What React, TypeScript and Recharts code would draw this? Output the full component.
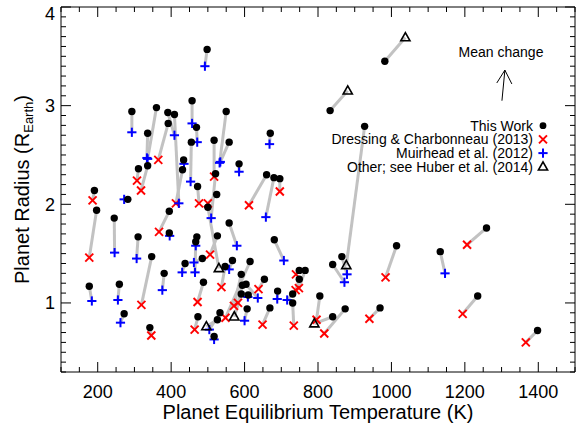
import React from 'react';
import { ScatterChart, Scatter, XAxis, YAxis, ReferenceLine } from 'recharts';

// ---- Data: "This Work" (black dots) and the earlier estimate each is linked to ----
const thisWorkTeq = [177, 191, 197, 245, 259, 272, 282, 293, 310, 347, 342, 381, 395, 395, 438, 360, 336, 336, 311, 391,
  409, 392, 431, 434, 498, 457, 469, 455, 550, 558, 517, 521, 524, 500, 472, 585, 670, 660, 680, 696,
  558, 526, 681, 470, 467, 485, 488, 473, 517, 526, 533, 567, 547, 615, 591, 594, 604, 591, 610, 607,
  654, 690, 669, 731, 731, 749, 765, 749, 805, 840, 874, 969, 1014, 1133, 1259, 1235, 1398, 865, 840, 927,
  833, 982];
const thisWorkRad = [1.17, 2.14, 1.94, 1.86, 1.19, 0.89, 2.05, 2.94, 1.67, 1.47, 0.75, 1.30, 1.93, 1.71, 1.40, 2.98, 2.72, 2.39, 2.36, 2.93,
  2.91, 2.82, 2.35, 2.45, 3.57, 3.05, 2.78, 2.63, 2.94, 2.63, 2.65, 2.31, 2.10, 1.97, 2.18, 2.41, 2.72, 2.30, 2.27, 2.26,
  1.81, 1.68, 1.64, 1.67, 1.62, 1.45, 1.21, 0.86, 0.66, 0.83, 0.90, 1.43, 1.37, 1.42, 1.29, 1.18, 1.19, 1.09, 1.08, 0.94,
  1.24, 1.12, 0.95, 1.09, 1.00, 1.33, 1.33, 1.24, 1.07, 0.86, 0.94, 0.95, 1.58, 1.52, 1.76, 1.07, 0.72, 1.47, 1.39, 2.79,
  2.95, 3.45];
const priorTeq = [184, 186, 177, 246, 255, 262, 272, 293, 306, 319, 346, 376, 367, 396, 430, 336, 334, 318, 307, 409,
  421, 365, 413, 435, 492, 457, 471, 453, 532, 534, 517, 509, 500, 530, 476, 585, 668, 612, 658, 696,
  579, 506, 707, 467, 465, 462, 472, 464, 517, 496, 504, 558, 537, 548, 571, 582, 636, 572, 609, 600,
  638, 689, 649, 716, 734, 740, 748, 739, 796, 790, 817, 940, 984, 1146, 1206, 1194, 1366, 879, 872, 877,
  881, 1038];
const priorRad = [1.02, 2.04, 1.46, 1.51, 1.03, 0.80, 2.05, 2.73, 1.45, 0.98, 0.67, 1.13, 1.72, 1.68, 1.31, 2.46, 2.47, 2.14, 2.24, 2.70,
  2.01, 2.45, 2.01, 2.41, 3.40, 2.82, 2.63, 2.23, 2.42, 2.43, 2.28, 1.86, 2.01, 1.35, 2.01, 2.33, 2.61, 1.99, 1.87, 2.13,
  1.58, 1.49, 1.43, 1.58, 1.31, 1.41, 1.01, 0.73, 0.63, 0.76, 0.73, 1.34, 1.16, 0.85, 0.97, 1.00, 1.05, 0.86, 1.06, 0.82,
  1.14, 1.04, 0.78, 1.03, 0.77, 1.29, 1.15, 1.13, 0.83, 0.79, 0.69, 0.84, 1.26, 1.30, 1.59, 0.89, 0.60, 1.29, 1.21, 1.38,
  3.15, 3.69];
// D = Dressing & Charbonneau (2013), M = Muirhead et al. (2012), H = other (Huber et al. 2014)
const priorSource = ['M', 'D', 'D', 'M', 'M', 'M', 'M', 'M', 'M', 'D', 'D', 'M', 'D', 'M', 'M', 'M', 'M', 'D', 'D', 'M',
  'M', 'D', 'D', 'M', 'M', 'M', 'M', 'M', 'M', 'M', 'D', 'M', 'D', 'H', 'D', 'M', 'M', 'D', 'M', 'D',
  'M', 'D', 'M', 'M', 'M', 'M', 'D', 'D', 'M', 'H', 'M', 'M', 'D', 'D', 'D', 'D', 'M', 'H', 'M', 'M',
  'D', 'M', 'D', 'M', 'D', 'D', 'D', 'D', 'D', 'H', 'D', 'D', 'D', 'M', 'D', 'D', 'D', 'M', 'M', 'H',
  'H', 'H'];

const xMajorTicks = [200, 400, 600, 800, 1000, 1200, 1400];
const yMajorTicks = [1, 2, 3, 4];
const xDomain = [100, 1500];
const yDomain = [0.3, 4.0];

// mean-change arrow (tail -> tip, plus two arms of the head), data coordinates
const arrowTail = { x: 1301, y: 3.05 };
const arrowTip = { x: 1309, y: 3.36 };
const arrowArmL = { x: 1287, y: 3.23 };
const arrowArmR = { x: 1328, y: 3.22 };

const legendLabels = ['This Work', 'Dressing & Charbonneau (2013)', 'Muirhead et al. (2012)', 'Other; see Huber et al. (2014)'];
const legendMarkers = ['circle', 'x', 'plus', 'tri'];

// ---- layout ----
const W = 580;
const H = 423;
const M = { top: 7, right: 5, left: 1, bottom: 0 };
const YAXIS_W = 60;
const XAXIS_H = 51;
const PLOT_W = W - M.left - M.right - YAXIS_W;
const PLOT_H = H - M.top - M.bottom - XAXIS_H;
const FONT = '"Liberation Sans", Arial, Helvetica, sans-serif';

const xTicks: number[] = [];
for (let v = 100; v <= 1500; v += 50) xTicks.push(v);
const yTicks: number[] = [];
for (let i = 3; i <= 40; i++) yTicks.push(Math.round(i) / 10);

const thisWorkData = thisWorkTeq.map((t, i) => ({ x: t, y: thisWorkRad[i] }));
const priorData = (src: string) =>
  priorTeq.map((t, i) => ({ x: t, y: priorRad[i], s: priorSource[i] })).filter((d) => d.s === src);
const segments = thisWorkTeq.map((t, i) => [
  { x: t, y: thisWorkRad[i] },
  { x: priorTeq[i], y: priorRad[i] },
]);

const Empty = () => <g />;

const Dot = (p: any) => <circle cx={p.cx} cy={p.cy} r={3.7} fill="#000" />;
const Cross = (p: any) => {
  const s = 4;
  return (
    <g stroke="#ff0000" strokeWidth={1.9}>
      <line x1={p.cx - s} y1={p.cy - s} x2={p.cx + s} y2={p.cy + s} />
      <line x1={p.cx - s} y1={p.cy + s} x2={p.cx + s} y2={p.cy - s} />
    </g>
  );
};
const Plus = (p: any) => {
  const s = 4.6;
  return (
    <g stroke="#0000ff" strokeWidth={2}>
      <line x1={p.cx - s} y1={p.cy} x2={p.cx + s} y2={p.cy} />
      <line x1={p.cx} y1={p.cy - s} x2={p.cx} y2={p.cy + s} />
    </g>
  );
};
const Tri = (p: any) => (
  <polygon
    points={`${p.cx},${p.cy - 5} ${p.cx + 4.6},${p.cy + 3.2} ${p.cx - 4.6},${p.cy + 3.2}`}
    fill="none"
    stroke="#000"
    strokeWidth={1.6}
  />
);

const XTick = (props: any) => {
  const { x, y, payload } = props;
  const v = payload.value;
  const major = xMajorTicks.indexOf(v) >= 0;
  const len = major ? 10 : 5;
  return (
    <g>
      <line x1={x} x2={x} y1={y} y2={y - len} stroke="#000" strokeWidth={1} />
      <line x1={x} x2={x} y1={y - PLOT_H} y2={y - PLOT_H + len} stroke="#000" strokeWidth={1} />
      {major && (
        <text x={x} y={y + 25.5} textAnchor="middle" fontSize={18} fontFamily={FONT} fill="#000">
          {v}
        </text>
      )}
    </g>
  );
};

const YTick = (props: any) => {
  const { x, y, payload } = props;
  const v = payload.value;
  const major = yMajorTicks.some((m) => Math.abs(m - v) < 1e-6);
  const len = major ? 10 : 5;
  // the top label is nudged down so it stays inside the figure
  const labelY = Math.max(y, M.top + 6.5) + 6.5;
  return (
    <g>
      <line x1={x} x2={x + len} y1={y} y2={y} stroke="#000" strokeWidth={1} />
      <line x1={x + PLOT_W} x2={x + PLOT_W - len} y1={y} y2={y} stroke="#000" strokeWidth={1} />
      {major && (
        <text x={x - 6} y={labelY} textAnchor="end" fontSize={18} fontFamily={FONT} fill="#000">
          {Math.round(v)}
        </text>
      )}
    </g>
  );
};

const LegendMarker = ({ kind, cx, cy }: { kind: string; cx: number; cy: number }) => {
  if (kind === 'circle') return <circle cx={cx} cy={cy} r={3.4} fill="#000" />;
  if (kind === 'x') return <Cross cx={cx} cy={cy} />;
  if (kind === 'plus') return <Plus cx={cx} cy={cy} />;
  return <Tri cx={cx} cy={cy} />;
};

export default function App() {
  return (
    <div style={{ position: 'absolute', left: 0, top: 0, width: W, height: H, background: '#fff' }}>
      <ScatterChart width={W} height={H} margin={M}>
        <XAxis
          type="number"
          dataKey="x"
          domain={xDomain}
          ticks={xTicks}
          interval={0}
          tickSize={0}
          tickMargin={0}
          tickLine={false}
          tick={<XTick />}
          height={XAXIS_H}
          axisLine={{ stroke: '#000', strokeWidth: 1 }}
          allowDataOverflow
        />
        <YAxis
          type="number"
          dataKey="y"
          domain={yDomain}
          ticks={yTicks}
          interval={0}
          tickSize={0}
          tickMargin={0}
          tickLine={false}
          tick={<YTick />}
          width={YAXIS_W}
          axisLine={{ stroke: '#000', strokeWidth: 1 }}
          allowDataOverflow
        />
        <ReferenceLine y={4} stroke="#000" strokeWidth={1} />
        <ReferenceLine x={1500} stroke="#000" strokeWidth={1} />
        {segments.map((seg, i) => (
          <Scatter
            key={'seg' + i}
            data={seg}
            line={{ stroke: '#c2c2c2', strokeWidth: 3 }}
            shape={<Empty />}
            isAnimationActive={false}
          />
        ))}
        <Scatter data={[arrowTail, arrowTip]} line={{ stroke: '#000', strokeWidth: 1 }} shape={<Empty />} isAnimationActive={false} />
        <Scatter data={[arrowArmL, arrowTip, arrowArmR]} line={{ stroke: '#000', strokeWidth: 1 }} shape={<Empty />} isAnimationActive={false} />
        <Scatter data={priorData('D')} shape={<Cross />} isAnimationActive={false} />
        <Scatter data={priorData('M')} shape={<Plus />} isAnimationActive={false} />
        <Scatter data={priorData('H')} shape={<Tri />} isAnimationActive={false} />
        <Scatter data={thisWorkData} shape={<Dot />} isAnimationActive={false} />
      </ScatterChart>
      <svg
        width={W}
        height={H}
        style={{ position: 'absolute', left: 0, top: 0, pointerEvents: 'none' }}
        fontFamily={FONT}
      >
        <text x={M.left + YAXIS_W + PLOT_W / 2} y={419} textAnchor="middle" fontSize={20} fill="#000">
          Planet Equilibrium Temperature (K)
        </text>
        <text transform={`translate(29, ${M.top + PLOT_H / 2}) rotate(-90)`} textAnchor="middle" fontSize={20} fill="#000">
          Planet Radius (R
          <tspan fontSize={13} dy={4}>Earth</tspan>
          <tspan dy={-4}>)</tspan>
        </text>
        <text x={501} y={57} textAnchor="middle" fontSize={14} fill="#000">
          Mean change
        </text>
        {legendLabels.map((lab, i) => {
          const cy = 125.7 + i * 13.7;
          return (
            <g key={lab}>
              <text x={533} y={cy + 5} textAnchor="end" fontSize={14} fill="#000">
                {lab}
              </text>
              <LegendMarker kind={legendMarkers[i]} cx={543} cy={cy} />
            </g>
          );
        })}
      </svg>
    </div>
  );
}
